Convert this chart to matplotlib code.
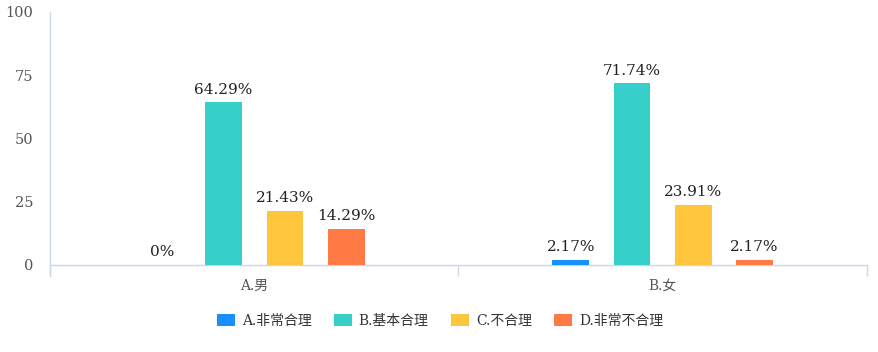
import matplotlib
matplotlib.use("Agg")
import matplotlib.pyplot as plt
import numpy as np

plt.rcParams['font.family'] = ['DejaVu Serif', 'Noto Sans CJK SC']

categories = ['A.男', 'B.女']
series_names = ['A.非常合理', 'B.基本合理', 'C.不合理', 'D.非常不合理']
values = [
    [0, 2.17],
    [64.29, 71.74],
    [21.43, 23.91],
    [14.29, 2.17],
]
labels = [
    ['0%', '2.17%'],
    ['64.29%', '71.74%'],
    ['21.43%', '23.91%'],
    ['14.29%', '2.17%'],
]
colors = ['#1890FF', '#36CFC9', '#FFC53D', '#FF7A45']
yticks = [0, 25, 50, 75, 100]

axis_color = '#CCD6EB'

fig = plt.figure(figsize=(8.79, 3.52), dpi=100)
ax = fig.add_axes([50/879, 1-265/352, (867-50)/879, (265-12)/352])

x = np.arange(len(categories))
width = 0.09
offsets = [-0.225, -0.075, 0.075, 0.225]
handles = []
for i, name in enumerate(series_names):
    bars = ax.bar(x + offsets[i], values[i], width, color=colors[i], label=name, zorder=3)
    handles.append(bars)
    for j, b in enumerate(bars):
        ax.annotate(labels[i][j], (b.get_x() + b.get_width()/2, b.get_height()),
                    xytext=(0, 4), textcoords='offset points', ha='center', va='bottom',
                    fontsize=11, color='#222222')

ax.set_xlim(-0.5, len(categories) - 0.5)
ax.set_ylim(0, 100)
ax.set_yticks(yticks)
ax.set_xticks(x)
ax.set_xticklabels(categories)
ax.set_xticks(np.arange(len(categories) + 1) - 0.5, minor=True)
ax.tick_params(axis='x', which='major', length=0, pad=10, labelsize=10, labelcolor='#555555')
ax.tick_params(axis='x', which='minor', length=8, color=axis_color, width=1)
ax.tick_params(axis='y', length=0, pad=12, labelsize=10.5, labelcolor='#555555')

for s in ['top', 'right', 'left']:
    ax.spines[s].set_visible(False)
ax.spines['bottom'].set_color(axis_color)
ax.spines['bottom'].set_linewidth(1)
ax.plot([0, 0], [-0.045, 1], transform=ax.transAxes, color=axis_color, lw=1, clip_on=False, zorder=4)

fig.legend(handles=handles, labels=series_names, loc='center', bbox_to_anchor=(440/879, 1-321/352),
           ncol=4, frameon=False, fontsize=10, handlelength=1.3, handleheight=0.95,
           columnspacing=1.6, handletextpad=0.5, labelcolor='#333333')

fig.savefig('out.png', dpi=100)
